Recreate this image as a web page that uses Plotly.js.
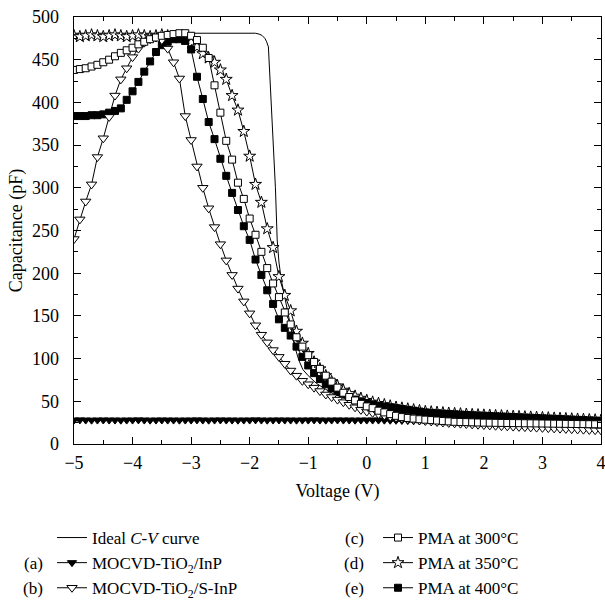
<!DOCTYPE html>
<html><head><meta charset="utf-8">
<script src="https://cdn.plot.ly/plotly-3.0.1.min.js"></script>
<style>html,body{margin:0;padding:0;background:#fff}</style>
</head><body><div id="chart" style="width:605px;height:603px"></div>
<script>
const voltage = [-5,-4.9,-4.8,-4.7,-4.6,-4.5,-4.4,-4.3,-4.2,-4.1,-4,-3.9,-3.8,-3.7,-3.6,-3.5,-3.4,-3.3,-3.2,-3.1,-3,-2.9,-2.8,-2.7,-2.6,-2.5,-2.4,-2.3,-2.2,-2.1,-2,-1.9,-1.8,-1.7,-1.6,-1.5,-1.4,-1.3,-1.2,-1.1,-1,-0.9,-0.8,-0.7,-0.6,-0.5,-0.4,-0.3,-0.2,-0.1,0,0.1,0.2,0.3,0.4,0.5,0.6,0.7,0.8,0.9,1,1.1,1.2,1.3,1.4,1.5,1.6,1.7,1.8,1.9,2,2.1,2.2,2.3,2.4,2.5,2.6,2.7,2.8,2.9,3,3.1,3.2,3.3,3.4,3.5,3.6,3.7,3.8,3.9,4];

// (a) MOCVD-TiO2/InP
const capA = [28,28.2,28,27.9,28,28.1,28,28,27.9,28, 28,28.2,28,27.9,28,28.1,28,28,27.9,28, 28,28.2,28,27.9,28,28.1,28,28,27.9,28, 28,28.2,28,27.9,28,28.1,28,28,27.9,28, 28,28.2,28,27.9,28,28.1,28,28,27.9,28,
  28,28,28,27.9,27.8,27.7,27.6,27.4,27.2,27.1, 27,26.8,26.6,26.5,26.4,26.2,26,25.9,25.8,25.6, 25.5,25.4,25.3,25.2,25,24.9,24.8,24.7,24.6,24.5, 24.4,24.3,24.2,24.1,24,23.9,23.8,23.7,23.6,23.5, 23.4];
// (b) MOCVD-TiO2/S-InP
const capB = [240,263,284,304,336,358,383,408,427,440, 453,463,470,474,476,473,463,447,428,384, 356,325,300,276,254,234,215,198,182,167, 153,139,128,119,110,102,94,86,80,74, 70,66,62,58,55,52,49,46,43,40,
  38,36.5,35,33.5,32,31,30,29,28.3,27.6, 27,26.4,25.8,25.2,24.7,24.2,23.8,23.4,23,22.6, 22.2,21.8,21.4,21,20.7,20.4,20.1,19.8,19.5,19.2, 18.9,18.6,18.3,18,17.7,17.4,17.1,16.8,16.5,16.2, 16];
// (c) PMA at 300 C
const capC = [438,439,440,442,444,447,450,454,458,461, 464,468,471,474,476,478,479,480,481,481, 478,473,464,452,420,388,355,333,306,287, 264,245,225,206,188,172,154,140,125,114, 104,96,88,80,73,66,60,55,51,47,
  44,42,39,37,35,33,31.5,30.5,29.7,29, 28.5,28,27.5,27,26.5,26,25.8,25.6,25.4,25.2, 25,24.9,24.8,24.7,24.6,24.5,24.4,24.3,24.2,24.1, 24,23.9,23.8,23.7,23.6,23.5,23.4,23.3,23.2,23.1, 23];
// (d) PMA at 350 C
const capD = [478,477,478,479,478,477,478,479,478,477, 478,479,478,477,478,479,478,477,476,474, 470,465,457,452,447,438,427,408,391,366, 337,304,283,252,230,196,174,156,132,118, 106,96,88,80,73,68,63,59,56,53.5,
  51,49,47.5,46,44.5,43,42,41,40,39, 38,37.5,37,36.5,36,35.6,35.2,34.8,34.4,34.1, 33.8,33.5,33.2,32.9,32.6,32.3,32,31.7,31.4,31.1, 30.8,30.5,30.2,29.9,29.6,29.3,29,28.7,28.4,28.1, 27.8];
// (e) PMA at 400 C
const capE = [384,384,384,385,385,386,388,390,393,403, 413,424,436,448,459,467,471,474,474,472, 462,430,404,377,357,334,314,294,274,255, 239,216,198,180,164,146,136,127,114,102, 92,83,76,70,65,61,58,55,52,50,
  48,46.5,45,44,43,42,41,40,39,38, 37,36.5,36,35.6,35.2,34.8,34.4,34,33.7,33.4, 33.1,32.8,32.5,32.2,31.9,31.6,31.3,31,30.7,30.4, 30.1,29.8,29.5,29.2,28.9,28.6,28.3,28,27.7,27.4, 27.1];

// Ideal C-V curve
const idealV = [-5,-1.9,-1.84,-1.79,-1.74,-1.71,-1.68,-1.64,-1.6,-1.56,-1.53,-1.5,-1.46,-1.42,-1.38,-1.3,-1.23,-1.16,-1.09,-1,-0.86,-0.7,-0.58,-0.4,-0.23,0,0.5,1,1.5,2,3,4];
const idealC = [481,481,480,478.5,475,471,465,415,360,300,239,213,192,178,166,140,114,98,87,80,71,64,59,54,50,46,39,34,30,27,23,20];

const seriesLabels = ['Ideal <i>C-V</i> curve','MOCVD-TiO<sub>2</sub>/InP','MOCVD-TiO<sub>2</sub>/S-InP','PMA at 300°C','PMA at 350°C','PMA at 400°C'];
const letterLabels = ['(a)','(b)','(c)','(d)','(e)'];

const FONT = 'Liberation Serif, Times New Roman, serif';
const ln = {color:'black', width:1};

const traces = [
  {x: idealV, y: idealC, mode:'lines', line: ln, name: seriesLabels[0], legend:'legend', legendrank:1},
  {x: voltage, y: capA, mode:'lines+markers', line: ln, name: seriesLabels[1], legend:'legend', legendrank:2,
   marker:{symbol:'triangle-down', size:8, color:'black', line:{color:'black', width:1}}},
  {x: voltage, y: capD, mode:'lines+markers', line: ln, name: seriesLabels[4], legend:'legend2', legendrank:2,
   marker:{symbol:'star', size:9, color:'white', line:{color:'black', width:1}}},
  {x: voltage, y: capE, mode:'lines+markers', line: ln, name: seriesLabels[5], legend:'legend2', legendrank:3,
   marker:{symbol:'square', size:7, color:'black', line:{color:'black', width:1}}},
  {x: voltage, y: capB, mode:'lines+markers', line: ln, name: seriesLabels[2], legend:'legend', legendrank:3,
   marker:{symbol:'triangle-down', size:9, color:'white', line:{color:'black', width:1}}},
  {x: voltage, y: capC, mode:'lines+markers', line: ln, name: seriesLabels[3], legend:'legend2', legendrank:1,
   marker:{symbol:'square', size:7, color:'white', line:{color:'black', width:1}}}
];

const W = 605, H = 603, ML = 74, MR = 4, MT = 17, MB = 159;
const PW = W - ML - MR, PH = H - MT - MB;
const px2x = p => (p - ML) / PW;
const py2y = p => (H - MB - p) / PH;

const axisCommon = {
  showline:true, linecolor:'black', linewidth:1.3, mirror:'allticks',
  ticks:'inside', ticklen:7, tickwidth:1, tickcolor:'black',
  showgrid:false, zeroline:false, ticklabeloverflow:'allow',
  tickfont:{family:FONT, size:18, color:'black'}
};

const layout = {
  width: W, height: H,
  margin:{l:ML, r:MR, t:MT, b:MB, autoexpand:false},
  paper_bgcolor:'white', plot_bgcolor:'white',
  font:{family:FONT, size:17, color:'black'},
  xaxis: Object.assign({}, axisCommon, {
    range:[-5,4], dtick:1, tick0:-5, ticklabelstandoff:2,
    minor:{dtick:0.5, ticks:'inside', ticklen:4, tickcolor:'black'},
    title:{text:'Voltage (V)', font:{family:FONT, size:18}, standoff:12}
  }),
  yaxis: Object.assign({}, axisCommon, {
    range:[0,500], dtick:50, tick0:0, ticklabelstandoff:10,
    minor:{dtick:25, ticks:'inside', ticklen:4, tickcolor:'black'},
    title:{text:'Capacitance (pF)', font:{family:FONT, size:18}, standoff:4}
  }),
  showlegend:true,
  legend:{x:px2x(52), y:py2y(520), xanchor:'left', yanchor:'top', orientation:'v',
    font:{family:FONT, size:17}, bgcolor:'rgba(0,0,0,0)', traceorder:'normal'},
  legend2:{x:px2x(378), y:py2y(520), xanchor:'left', yanchor:'top', orientation:'v',
    font:{family:FONT, size:17}, bgcolor:'rgba(0,0,0,0)', traceorder:'normal'},
  annotations: [
    {text:letterLabels[0], x:px2x(33), y:py2y(563)},
    {text:letterLabels[1], x:px2x(33), y:py2y(588)},
    {text:letterLabels[2], x:px2x(354), y:py2y(538)},
    {text:letterLabels[3], x:px2x(354), y:py2y(563)},
    {text:letterLabels[4], x:px2x(354), y:py2y(588)}
  ].map(a => Object.assign(a, {xref:'paper', yref:'paper', showarrow:false, xanchor:'center', yanchor:'middle',
    font:{family:FONT, size:17, color:'black'}}))
};

Plotly.newPlot('chart', traces, layout, {displayModeBar:false, staticPlot:true});
</script>
</body></html>
